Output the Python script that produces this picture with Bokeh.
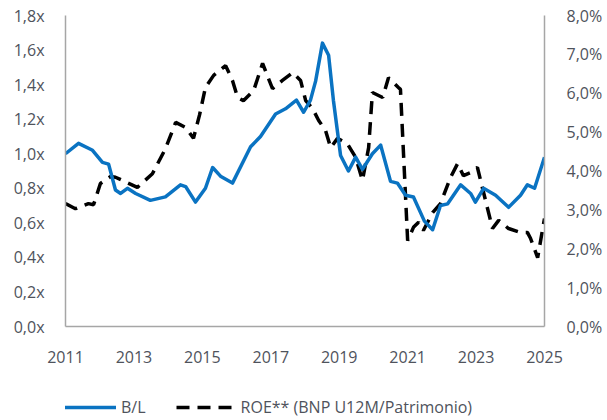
from bokeh.plotting import figure
from bokeh.models import Range1d, LinearAxis, FixedTicker, Legend, LegendItem, ColumnDataSource
from bokeh.layouts import column
from bokeh.embed import file_html
from bokeh.resources import INLINE

# ---- data ----
bl_year = [2011.00, 2011.38, 2011.79, 2012.08, 2012.26, 2012.46, 2012.61, 2012.81, 2013.05, 2013.48,
           2013.92, 2014.36, 2014.51, 2014.80, 2015.09, 2015.30, 2015.53, 2015.88, 2016.41, 2016.70,
           2017.14, 2017.43, 2017.75, 2017.96, 2018.16, 2018.31, 2018.51, 2018.69, 2018.83, 2019.04,
           2019.27, 2019.48, 2019.68, 2019.97, 2020.21, 2020.50, 2020.70, 2020.94, 2021.17, 2021.49,
           2021.73, 2021.96, 2022.17, 2022.55, 2022.84, 2022.98, 2023.22, 2023.57, 2023.95, 2024.30,
           2024.50, 2024.71, 2025.00]
bl_value = [1.00, 1.06, 1.02, 0.95, 0.94, 0.79, 0.77, 0.80, 0.77, 0.73,
            0.75, 0.82, 0.81, 0.72, 0.80, 0.92, 0.87, 0.83, 1.04, 1.10,
            1.23, 1.26, 1.31, 1.24, 1.31, 1.42, 1.64, 1.57, 1.31, 0.99,
            0.90, 0.98, 0.91, 1.00, 1.05, 0.84, 0.83, 0.76, 0.75, 0.61,
            0.56, 0.70, 0.71, 0.82, 0.77, 0.72, 0.80, 0.76, 0.69, 0.76,
            0.82, 0.80, 0.98]

roe_year = [2011.00, 2011.29, 2011.67, 2011.82, 2012.02, 2012.32, 2012.46, 2013.10, 2013.54, 2013.92,
            2014.22, 2014.51, 2014.74, 2014.92, 2015.09, 2015.33, 2015.68, 2015.88, 2016.03, 2016.20,
            2016.50, 2016.76, 2016.90, 2017.05, 2017.34, 2017.64, 2017.87, 2018.02, 2018.22, 2018.40,
            2018.60, 2018.75, 2018.95, 2019.24, 2019.48, 2019.68, 2019.86, 2019.97, 2020.27, 2020.44,
            2020.73, 2020.79, 2021.00, 2021.17, 2021.32, 2021.46, 2021.73, 2021.96, 2022.25, 2022.46,
            2022.63, 2022.84, 2023.04, 2023.19, 2023.48, 2023.66, 2023.95, 2024.30, 2024.50, 2024.59,
            2024.80, 2025.00]
roe_value = [3.16, 3.03, 3.16, 3.13, 3.68, 3.86, 3.84, 3.58, 3.93, 4.57,
             5.25, 5.12, 4.84, 5.45, 6.15, 6.46, 6.71, 6.33, 5.89, 5.81,
             6.07, 6.77, 6.45, 6.12, 6.33, 6.53, 6.33, 5.81, 5.61, 5.30,
             5.04, 4.60, 4.84, 4.70, 4.35, 3.76, 4.60, 6.02, 5.89, 6.40,
             6.15, 6.10, 2.21, 2.55, 2.68, 2.47, 2.93, 3.16, 3.83, 4.19,
             3.88, 3.96, 4.09, 3.55, 2.52, 2.73, 2.52, 2.42, 2.42, 2.27,
             1.77, 2.78]

x_ticks = [2011, 2013, 2015, 2017, 2019, 2021, 2023, 2025]
x_labels = ["2011", "2013", "2015", "2017", "2019", "2021", "2023", "2025"]
left_ticks = [0.0, 0.2, 0.4, 0.6, 0.8, 1.0, 1.2, 1.4, 1.6, 1.8]
left_labels = ["0,0x", "0,2x", "0,4x", "0,6x", "0,8x", "1,0x", "1,2x", "1,4x", "1,6x", "1,8x"]
right_ticks = [0, 1, 2, 3, 4, 5, 6, 7, 8]
right_labels = ["0,0%", "1,0%", "2,0%", "3,0%", "4,0%", "5,0%", "6,0%", "7,0%", "8,0%"]

series_names = ["B/L", "ROE** (BNP U12M/Patrimonio)"]

FONT = "Open Sans"
TXT = "#4F535C"
AXC = "#A6A6A6"
BLUE = "#0A73C2"
BL_STYLE = dict(line_color=BLUE, line_width=3.5, line_join="round")
ROE_STYLE = dict(line_color="black", line_width=3.5, line_dash="13 8")

p = figure(width=607, height=390, output_backend="svg", toolbar_location=None,
           x_range=Range1d(2011, 2025), y_range=Range1d(0, 1.8),
           min_border_left=65, min_border_right=63, min_border_top=15, min_border_bottom=64)
p.extra_y_ranges = {"roe": Range1d(0, 8)}
p.outline_line_color = None
p.grid.visible = False
p.background_fill_color = "white"
p.border_fill_color = "white"

src_bl = ColumnDataSource(dict(x=bl_year, y=bl_value))
src_roe = ColumnDataSource(dict(x=roe_year, y=roe_value))

p.line("x", "y", source=src_roe, y_range_name="roe", **ROE_STYLE)
p.line("x", "y", source=src_bl, **BL_STYLE)

def style_axis(ax, ticks, labels, standoff):
    ax.ticker = FixedTicker(ticks=ticks)
    ax.major_label_overrides = {t: l for t, l in zip(ticks, labels)}
    ax.axis_line_color = AXC
    ax.axis_line_width = 1.5
    ax.major_tick_line_color = None
    ax.minor_tick_line_color = None
    ax.major_tick_out = 0
    ax.major_tick_in = 0
    ax.minor_tick_out = 0
    ax.minor_tick_in = 0
    ax.major_label_text_font = FONT
    ax.major_label_text_font_size = "16px"
    ax.major_label_text_color = TXT
    ax.major_label_standoff = standoff

style_axis(p.xaxis[0], x_ticks, x_labels, 24)
style_axis(p.yaxis[0], left_ticks, left_labels, 21)

right = LinearAxis(y_range_name="roe")
style_axis(right, right_ticks, right_labels, 22)
p.add_layout(right, "right")

# legend strip below the chart (its own lines lie outside its view range)
lg = figure(width=607, height=30, output_backend="svg", toolbar_location=None,
            x_range=Range1d(0, 1), y_range=Range1d(0, 1),
            x_axis_location=None, y_axis_location=None,
            min_border_left=0, min_border_right=0, min_border_top=0, min_border_bottom=0)
lg.grid.visible = False
lg.outline_line_color = None
l_bl = lg.line("x", "y", source=src_bl, **BL_STYLE)
l_roe = lg.line("x", "y", source=src_roe, **ROE_STYLE)
legend = Legend(items=[LegendItem(label=series_names[0], renderers=[l_bl]),
                       LegendItem(label=series_names[1], renderers=[l_roe])],
                location=(-9, 2), orientation="horizontal",
                label_text_font=FONT, label_text_font_size="16px", label_text_color=TXT,
                glyph_width=60, glyph_height=20, label_standoff=5, spacing=30,
                padding=0, margin=0, border_line_color=None, background_fill_alpha=0)
lg.add_layout(legend, "center")

open("out.html", "w").write(file_html(column(p, lg, spacing=0), INLINE))
